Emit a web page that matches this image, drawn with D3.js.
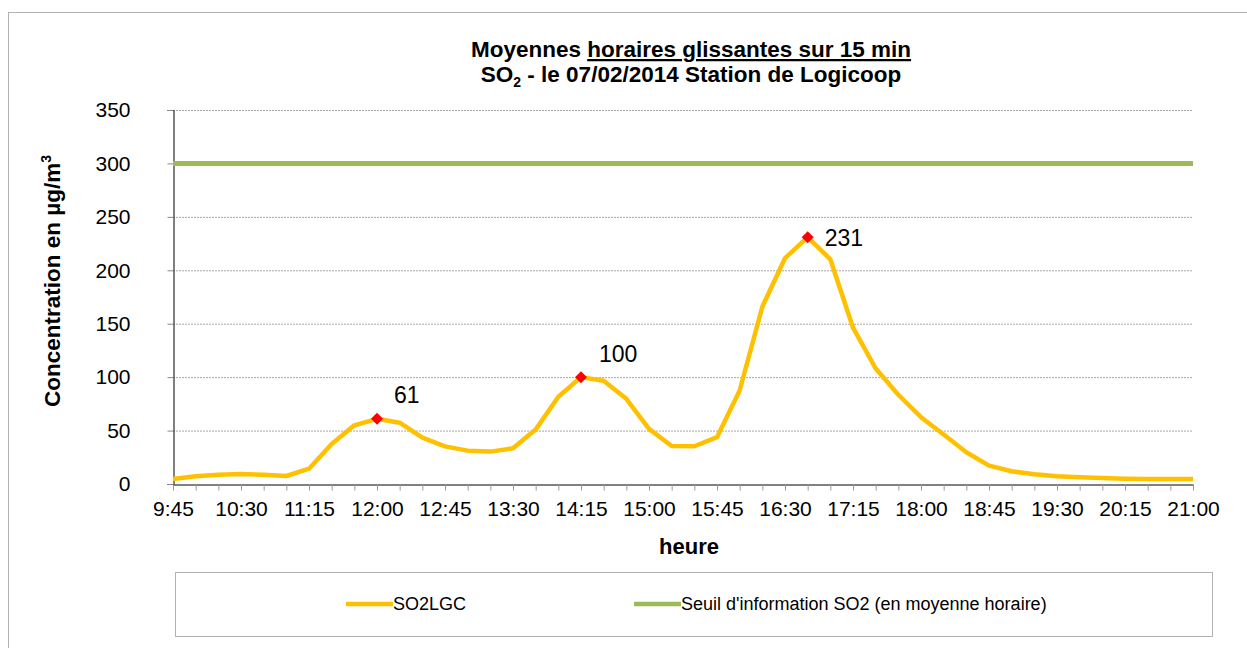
<!DOCTYPE html>
<html>
<head>
<meta charset="utf-8">
<script src="https://cdn.jsdelivr.net/npm/d3@7"></script>
<style>
  body { margin: 0; background: #fff; }
  svg { display: block; font-family: Arial, "Liberation Sans", sans-serif; }
</style>
</head>
<body>
<svg id="chart" width="1247" height="648"></svg>
<script>
// 15-min sliding hourly means, SO2 at Logicoop, 07/02/2014
const times = [
  '9:45', '10:00', '10:15', '10:30', '10:45', '11:00', '11:15', '11:30', '11:45',
  '12:00', '12:15', '12:30', '12:45', '13:00', '13:15', '13:30', '13:45', '14:00',
  '14:15', '14:30', '14:45', '15:00', '15:15', '15:30', '15:45', '16:00', '16:15',
  '16:30', '16:45', '17:00', '17:15', '17:30', '17:45', '18:00', '18:15', '18:30',
  '18:45', '19:00', '19:15', '19:30', '19:45', '20:00', '20:15', '20:30', '20:45',
  '21:00',
];
const so2lgc = [
  4.7, 7.2, 8.7, 9.4, 8.7, 7.5, 14.3, 37.4, 54.9,
  61, 57.4, 43.4, 35.2, 31.2, 30.3, 33.4, 50.9, 81.6,
  100, 96.6, 79.7, 51.6, 35.6, 35.3, 43.8, 87.5, 165.9,
  211.3, 231, 210.3, 146.3, 108.1, 83.5, 62.5, 46.3, 29.7,
  17.2, 11.9, 9.1, 7.2, 6.3, 5.6, 5.0, 4.7, 4.7,
  4.7,
];
const seuil = 300;
const peakTimes = ['12:00', '14:15', '16:45'];
const peakLabels = ['61', '100', '231'];
const yTicks = [0, 50, 100, 150, 200, 250, 300, 350];
const legendNames = ['SO2LGC', "Seuil d'information SO2 (en moyenne horaire)"];

const COLORS = { so2: '#FFC000', seuil: '#9BBB59', peak: '#FF0000', grid: '#A6A6A6' };
const plot = { left: 173, right: 1193, top: 110, bottom: 484 };
const FONT = 'Arial, "Liberation Sans", sans-serif';

const svg = d3.select('#chart');

// outer chart frame (runs off the right/bottom edge)
svg.append('rect')
  .attr('x', 8.5).attr('y', 12.5)
  .attr('width', 1260).attr('height', 660)
  .attr('fill', 'none').attr('stroke', '#B3B3B3').attr('stroke-width', 1);

const x = d3.scalePoint().domain(times).range([plot.left, plot.right]);
const y = d3.scaleLinear().domain([0, 350]).range([plot.bottom, plot.top]);

// gridlines
svg.append('g')
  .selectAll('line')
  .data(yTicks.filter(d => d > 0))
  .join('line')
    .attr('x1', plot.left).attr('x2', plot.right)
    .attr('y1', d => y(d) + 0.5).attr('y2', d => y(d) + 0.5)
    .attr('stroke', COLORS.grid).attr('stroke-width', 1)
    .attr('stroke-dasharray', '2,1');

// y axis
const yAxis = svg.append('g')
  .attr('transform', `translate(${plot.left + 0.5},0)`)
  .call(d3.axisLeft(y).tickValues(yTicks).tickSize(6).tickPadding(37));
yAxis.select('.domain').attr('stroke', '#000');
yAxis.selectAll('.tick line').attr('stroke', '#888');
yAxis.selectAll('text').attr('font-size', 21).attr('fill', '#000').attr('font-family', FONT);

// x axis
const xAxis = svg.append('g')
  .attr('transform', `translate(0,${plot.bottom + 0.5})`)
  .call(d3.axisBottom(x).tickSize(6).tickSizeOuter(0).tickPadding(11)
    .tickFormat((d, i) => (i % 3 === 0 ? d : '')));
xAxis.select('.domain').attr('stroke', '#000');
xAxis.selectAll('.tick line').attr('stroke', '#999');
xAxis.selectAll('text').attr('font-size', 21).attr('fill', '#000').attr('font-family', FONT);

// threshold line
svg.append('line')
  .attr('x1', x(times[0])).attr('x2', x(times[times.length - 1]))
  .attr('y1', y(seuil)).attr('y2', y(seuil))
  .attr('stroke', COLORS.seuil).attr('stroke-width', 5);

// SO2 series
const line = d3.line()
  .x((d, i) => x(times[i]))
  .y(d => y(d));
svg.append('path')
  .datum(so2lgc)
  .attr('d', line)
  .attr('fill', 'none')
  .attr('stroke', COLORS.so2)
  .attr('stroke-width', 4.5)
  .attr('stroke-linejoin', 'round');

// peak markers + labels
const labelOffsets = [[17, -16], [18, -15], [17, 9]];
const peaks = peakTimes.map((t, i) => ({ t, v: so2lgc[times.indexOf(t)], label: peakLabels[i], off: labelOffsets[i] }));
const pg = svg.append('g').selectAll('g').data(peaks).join('g')
  .attr('transform', d => `translate(${x(d.t)},${y(d.v)})`);
pg.append('path')
  .attr('d', d3.symbol(d3.symbolSquare, 72))
  .attr('transform', 'rotate(45)')
  .attr('fill', COLORS.peak);
pg.append('text')
  .attr('x', d => d.off[0]).attr('y', d => d.off[1])
  .attr('font-size', 23)
  .text(d => d.label);

// title
const title = svg.append('text')
  .attr('x', 691).attr('y', 57)
  .attr('text-anchor', 'middle')
  .attr('font-size', 22.5).attr('font-weight', 'bold');
title.append('tspan').text('Moyennes ');
title.append('tspan').attr('text-decoration', 'underline').text('horaires glissantes sur 15 min');

const title2 = svg.append('text')
  .attr('x', 691).attr('y', 82)
  .attr('text-anchor', 'middle')
  .attr('font-size', 22.5).attr('font-weight', 'bold');
title2.append('tspan').text('SO');
title2.append('tspan').attr('font-size', 14).attr('dy', 5).text('2');
title2.append('tspan').attr('dy', -5).text(' - le 07/02/2014 Station de Logicoop');

// axis titles
const yTitle = svg.append('text')
  .attr('transform', 'translate(60,281) rotate(-90)')
  .attr('text-anchor', 'middle')
  .attr('font-size', 22.5).attr('font-weight', 'bold');
yTitle.append('tspan').text('Concentration en µg/m');
yTitle.append('tspan').attr('font-size', 14).attr('dy', -9).text('3');

svg.append('text')
  .attr('x', 689).attr('y', 554)
  .attr('text-anchor', 'middle')
  .attr('font-size', 22).attr('font-weight', 'bold')
  .text('heure');

// legend
svg.append('rect')
  .attr('x', 175.5).attr('y', 572.5)
  .attr('width', 1037).attr('height', 64)
  .attr('fill', 'none').attr('stroke', '#B3B3B3');

const legendX = [346, 634];
const legendColors = [COLORS.so2, COLORS.seuil];
const lg = svg.append('g').selectAll('g').data(legendNames).join('g')
  .attr('transform', (d, i) => `translate(${legendX[i]},604)`);
lg.append('line')
  .attr('x1', 0).attr('x2', 47)
  .attr('stroke', (d, i) => legendColors[i])
  .attr('stroke-width', 4.5);
lg.append('text')
  .attr('x', 47).attr('y', 6)
  .attr('font-size', 18)
  .text(d => d);
</script>
</body>
</html>
